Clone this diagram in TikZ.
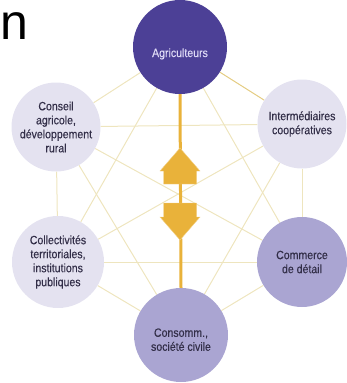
\documentclass[tikz,border=0pt]{standalone}
\usepackage{fontspec}
\setmainfont{Liberation Sans}
\newfontfamily\labelfont[FakeStretch=0.88,FakeBold=0.35]{Liberation Sans}
\usetikzlibrary{backgrounds}
\definecolor{darkp}{RGB}{76,64,150}
\definecolor{lightp}{RGB}{228,226,240}
\definecolor{midp}{RGB}{170,165,210}
\definecolor{goldc}{RGB}{233,178,58}
\definecolor{thinl}{RGB}{238,229,190}
\definecolor{thing}{RGB}{228,204,130}
\definecolor{txtd}{RGB}{50,46,72}
\definecolor{txtl}{RGB}{222,218,246}
\newcommand{\lowertext}[2]{\raisebox{#1}[0pt][0pt]{\begin{tabular}{@{}c@{}}#2\end{tabular}}}
\tikzset{
  actor/.style={circle, inner sep=0pt, align=center, font=\labelfont\fontsize{12}{14}\selectfont, text=txtd},
  web/.style={draw=thinl, line width=1pt},
  webg/.style={draw=thing, line width=1pt},
  trunk/.style={draw=goldc, line width=3pt},
  bigarrow/.style={fill=goldc, draw=goldc!60!white, line width=0.4pt, line join=miter},
}
\begin{document}
\begin{tikzpicture}[x=1pt,y=-1pt]
\useasboundingbox (0,0) rectangle (346,383);
\node[anchor=base west, inner sep=0pt, font=\fontsize{50}{50}\selectfont] (title) at (0,39) {n};
\node[actor, fill=darkp, text=txtl, minimum size=94pt] (A) at (180,47) {\raisebox{-10pt}[0pt][0pt]{Agriculteurs}};
\node[actor, fill=lightp, minimum size=89pt] (B) at (56,127) {Conseil\\agricole,\\développement\\rural};
\node[actor, fill=lightp, minimum size=89pt] (C) at (302,124) {Intermédiaires\\coopératives};
\node[actor, fill=lightp, minimum size=92pt] (D) at (58,262) {Collectivités\\territoriales,\\institutions\\publiques};
\node[actor, fill=midp, minimum size=90pt] (E) at (302,262) {Commerce\\de détail};
\node[actor, fill=midp, minimum size=94pt] (F) at (181,335) {\lowertext{-9pt}{Consomm.,\\société civile}};
\begin{scope}[on background layer]
  \draw[web] (A) -- (B);
  \draw[webg] (A) -- (C);
  \draw[web] (A) -- (D);
  \draw[web] (A) -- (E);
  \draw[web] (B) -- (C);
  \draw[web] (B) -- (D);
  \draw[web] (B) -- (E);
  \draw[web] (B) -- (F);
  \draw[web] (C) -- (D);
  \draw[web] (C) -- (E);
  \draw[web] (C) -- (F);
  \draw[web] (D) -- (E);
  \draw[web] (D) -- (F);
  \draw[web] (E) -- (F);
  \draw[trunk] (A.south) -- (F.north);
\end{scope}
\fill[bigarrow] (180,148) -- (200,171) -- (196.5,171) -- (196.5,184) -- (163.5,184) -- (163.5,171) -- (160,171) -- cycle;
\fill[bigarrow] (163.5,203) -- (196.5,203) -- (196.5,217) -- (200,217) -- (180,240) -- (160,217) -- (163.5,217) -- cycle;
\end{tikzpicture}
\end{document}
